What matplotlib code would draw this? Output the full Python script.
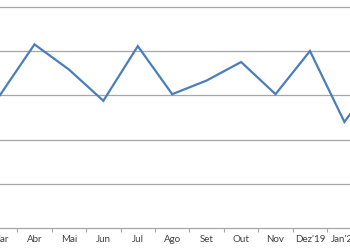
import numpy as np
import matplotlib
matplotlib.use('Agg')
import matplotlib.pyplot as plt

# Monthly series (only Mar .. Fev'20 is visible in the cropped chart)
months = ['Mar', 'Abr', 'Mai', 'Jun', 'Jul', 'Ago', 'Set', 'Out', 'Nov', "Dez'19", "Jan'20", "Fev'20"]
values = [3.01, 4.16, 3.59, 2.88, 4.12, 3.03, 3.34, 3.76, 3.03, 4.01, 2.40, 3.46]
grid_levels = [1, 2, 3, 4, 5]

line_color = '#4A7EBB'
grid_color = '#A6A6A6'

fig = plt.figure(figsize=(3.5, 2.5), dpi=100)
ax = fig.add_axes([0, 0.0892, 1, 0.9108])

x = np.arange(len(months))
ax.plot(x, values, color=line_color, linewidth=1.6, solid_joinstyle='miter', zorder=3)

for g in grid_levels:
    ax.axhline(g, color=grid_color, linewidth=0.9, zorder=1)

ax.set_xticks(x)
ax.set_xticklabels(months, fontsize=7, color='#404040', family=['Lato', 'DejaVu Sans'])
ax.set_xticks(x[:-1] + 0.5, minor=True)
ax.tick_params(axis='x', which='major', length=0, pad=5)
ax.tick_params(axis='x', which='minor', length=3, color=grid_color, width=0.8)
ax.set_yticks([])

# visible window of the category axis (set after ticks so it is not expanded);
# the left edge sits on "Mar" so its half-cut label is still drawn
ax.set_xlim(-0.001, 10.162)
ax.set_ylim(0, 5.167)

for side in ['top', 'left', 'right']:
    ax.spines[side].set_visible(False)
ax.spines['bottom'].set_color(grid_color)
ax.spines['bottom'].set_linewidth(0.9)

fig.savefig('out.png', dpi=100)
